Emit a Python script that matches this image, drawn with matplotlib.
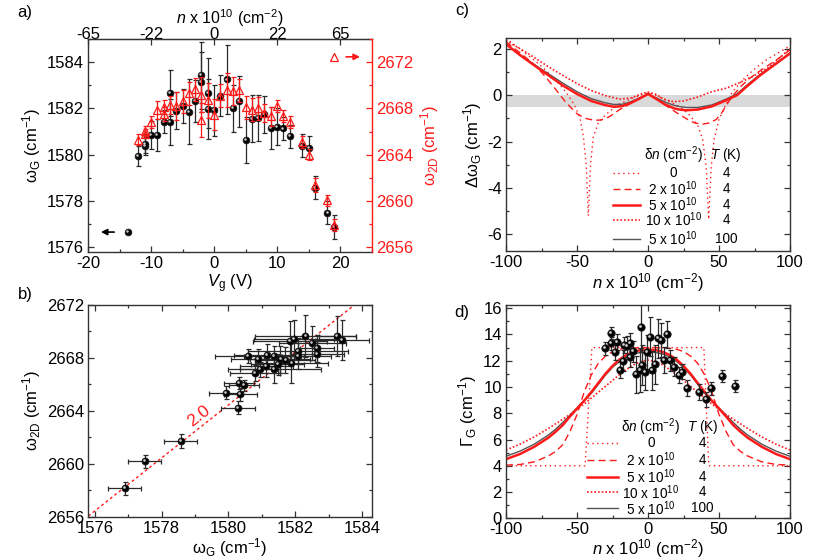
import numpy as np
import matplotlib
matplotlib.use("Agg")
import matplotlib.pyplot as plt
import matplotlib.transforms as mtrans
from matplotlib.ticker import MultipleLocator

plt.rcParams["font.family"] = ["Liberation Sans", "DejaVu Sans"]
plt.rcParams["mathtext.fontset"] = "custom"
plt.rcParams["mathtext.rm"] = "Liberation Sans"
plt.rcParams["mathtext.it"] = "Liberation Sans:italic"
plt.rcParams["font.size"] = 12
plt.rcParams["axes.unicode_minus"] = False

# ---- panel a: G and 2D positions vs gate voltage ----
vg_G = [-12, -11, -11, -10, -9, -8, -7, -7, -6, -5, -4, -3, -2, -2, -1, -1, 0, 1, 2,
        3, 4, 5, 6, 7, 8, 9, 10, 11, 12, 14, 15, 16, 18, 19]
wG = [1579.94, 1580.38, 1580.48, 1580.85, 1580.85, 1581.42, 1581.42, 1582.67, 1581.9,
      1582.1, 1581.85, 1582.32, 1583.44, 1583.15, 1582.67, 1581.98, 1581.92, 1582.55,
      1583.25, 1582.0, 1582.31, 1580.62, 1581.56, 1581.6, 1581.74, 1581.16, 1581.2,
      1581.13, 1580.8, 1580.38, 1580.3, 1578.57, 1577.49, 1576.87]
wG_err = [0.45, 0.4, 0.4, 0.6, 0.7, 0.5, 1.0, 1.0, 0.8, 0.75, 1.4, 0.9, 1.45, 1.3, 1.5,
          1.3, 1.1, 0.9, 1.5, 1.0, 1.1, 1.0, 1.0, 1.0, 0.8, 0.9, 0.8, 0.5, 0.5, 0.5,
          0.5, 0.5, 0.5, 0.5]

vg_2D = [-12, -11, -11, -10, -9, -8, -8, -7, -6, -5, -4, -3, -2, -2, -1, 0, 1, 2, 3,
         4, 5, 6, 7, 8, 9, 10, 11, 12, 14, 15, 16, 18, 19]
w2D = [2665.3, 2665.8, 2666.05, 2666.8, 2667.84, 2668.15, 2667.5, 2668.28, 2668.2,
       2668.6, 2669.3, 2669.66, 2669.2, 2667.0, 2668.7, 2667.47, 2669.1, 2669.58,
       2669.5, 2669.58, 2668.1, 2667.9, 2668.0, 2667.6, 2667.3, 2668.2, 2667.35,
       2666.8, 2665.1, 2664.0, 2661.4, 2660.05, 2657.9]
w2D_err = [0.5, 0.4, 0.4, 0.5, 0.8, 0.6, 0.6, 0.8, 1.2, 1.0, 1.0, 1.0, 1.5, 1.5, 1.5,
           1.3, 1.0, 1.5, 1.2, 1.0, 1.0, 1.0, 1.0, 0.8, 0.8, 0.5, 0.5, 0.5, 0.5, 0.5,
           0.6, 0.5, 0.5]

top_ticks_vg = [-20, -10, 0, 10, 20]
top_tick_labels = ["-65", "-22", "0", "22", "65"]

# ---- panel b: 2D vs G ----
b_wG = [1576.89, 1577.49, 1578.57, 1580.29, 1579.93, 1580.36, 1580.33, 1580.48, 1580.6,
        1580.81, 1580.88, 1580.94, 1581.16, 1581.14, 1581.38, 1581.38, 1581.48, 1581.56,
        1581.71, 1581.89, 1581.84, 1581.96, 1582.08, 1582.08, 1582.31, 1582.51, 1582.66,
        1582.66, 1583.26, 1583.41]
b_w2D = [2658.14, 2660.2, 2661.72, 2664.24, 2665.37, 2665.24, 2666.13, 2665.92, 2668.14,
         2666.88, 2667.91, 2667.13, 2668.22, 2667.39, 2667.13, 2668.14, 2667.51, 2667.89,
         2667.84, 2667.64, 2669.27, 2669.4, 2668.52, 2668.14, 2669.65, 2669.15, 2668.72,
         2668.29, 2669.65, 2669.35]
b_xerr = [0.5, 0.5, 0.5, 0.5, 0.5, 0.5, 0.45, 0.45, 1.0, 0.75, 0.8, 0.6, 1.0, 0.8, 1.4,
          0.9, 0.8, 0.9, 0.9, 1.1, 1.1, 1.2, 1.5, 1.0, 1.5, 1.0, 0.5, 0.8, 0.55, 0.8]
b_yerr = [0.5, 0.5, 0.5, 0.48, 0.48, 0.5, 0.45, 0.45, 0.5, 0.6, 0.8, 0.6, 0.8, 0.8, 1.0,
          0.8, 0.8, 1.0, 1.0, 1.5, 1.5, 1.5, 1.0, 1.0, 1.6, 1.3, 1.0, 1.0, 1.5, 1.5]
fit_slope = 2.0

# ---- panel c: calculated shift of G ----
c_n = [-100, -90, -80, -70, -60, -50, -40, -30, -24, -18, -12, -6, 0, 6, 12, 18, 22, 27,
       35, 45, 55, 62.7, 70, 79, 90, 100]
c_5 = [2.2, 1.72, 1.28, 0.85, 0.42, 0.05, -0.25, -0.43, -0.5, -0.47, -0.33, -0.15, 0.05,
       -0.17, -0.4, -0.56, -0.62, -0.65, -0.62, -0.48, -0.22, 0.0, 0.4, 0.86, 1.35, 1.8]
c_5hot = [2.2, 1.73, 1.31, 0.92, 0.52, 0.15, -0.15, -0.33, -0.4, -0.39, -0.28, -0.12, 0.05,
          -0.12, -0.3, -0.43, -0.49, -0.53, -0.53, -0.42, -0.17, 0.06, 0.45, 0.9, 1.37, 1.82]
c_n_2 = [-100, -90, -80, -72, -65, -58, -50, -44, -38, -33, -27, -20, -12, -5, 0, 5, 12,
         20, 28, 33, 38, 43, 48, 52, 56, 60, 65, 71, 80, 90, 100]
c_2 = [2.3, 1.82, 1.32, 0.78, 0.25, -0.3, -0.8, -1.0, -1.08, -1.07, -0.92, -0.62, -0.35,
       -0.1, 0.08, -0.12, -0.42, -0.75, -1.05, -1.2, -1.25, -1.2, -1.05, -0.75, -0.35,
       0.0, 0.35, 0.7, 1.1, 1.5, 1.95]
c_n_0 = [-100, -90, -80, -72, -65, -58, -52, -48, -45.5, -43.5, -42, -40.5, -38.5, -35,
         -30, -25, -20, -12, -5, 0, 5, 12, 20, 25, 30, 35, 38.5, 41, 42.7, 44.5, 46.5,
         50, 54, 59, 66, 74, 84, 100]
c_0 = [2.45, 1.98, 1.5, 1.08, 0.65, 0.15, -0.4, -0.95, -1.8, -3.0, -5.2, -3.0, -1.8,
       -1.2, -0.85, -0.6, -0.38, -0.15, 0.0, 0.1, 0.0, -0.18, -0.42, -0.62, -0.9, -1.3,
       -1.9, -3.1, -5.35, -3.1, -1.9, -1.05, -0.5, 0.1, 0.62, 1.08, 1.55, 2.12]
c_n_10 = [-100, -90, -80, -70, -60, -50, -40, -30, -20, -12, -5, 0, 5, 12, 18, 25, 35,
          45, 55, 65, 75, 85, 100]
c_10 = [2.35, 2.0, 1.62, 1.22, 0.85, 0.5, 0.2, -0.02, -0.17, -0.12, 0.05, 0.13, 0.05,
        -0.2, -0.28, -0.25, -0.08, 0.15, 0.3, 0.55, 0.85, 1.2, 2.0]

# ---- panel d: G linewidth ----
d_n_pts = [-30.1, -25.8, -25.8, -23.0, -21.8, -19.5, -17.9, -17.2, -14.8, -12.5, -13.0,
           -10.6, -8.5, -5.9, -4.7, -4.2, -2.4, -0.5, 1.1, 2.8, 5.1, 7.2, 9.0, 11.0,
           13.5, 15.7, 18.0, 21.5, 23.9, 27.5, 36.2, 41.0, 44.5, 52.1, 61.2]
d_gam = [12.95, 14.09, 13.33, 12.69, 13.4, 11.3, 12.0, 13.2, 13.1, 13.33, 12.31, 12.74,
         10.97, 11.3, 14.57, 11.68, 11.17, 12.69, 13.83, 11.27, 11.72, 13.71, 13.55,
         12.06, 14.0, 12.03, 11.55, 10.91, 11.17, 9.9, 9.64, 9.06, 9.9, 10.82, 10.09]
d_gam_err = [0.5, 0.45, 0.5, 0.6, 0.6, 0.6, 0.8, 0.6, 0.8, 0.8, 0.8, 0.8, 1.4, 1.7, 1.9,
             1.5, 1.4, 1.3, 1.5, 1.5, 1.5, 1.5, 1.3, 1.0, 1.0, 0.8, 0.7, 0.6, 0.6, 0.6,
             0.6, 0.55, 0.5, 0.45, 0.45]

d_n_0 = [-100, -44.3, -39.5, 39.3, 42.8, 100]
d_0 = [4.0, 4.0, 13.0, 13.0, 4.0, 4.0]
d_n = [-100, -90, -80, -70, -65, -60, -55, -50, -45, -40, -35, -30, -25, -20, -15, -10,
       -5, 0, 5, 10, 15, 20, 25, 30, 35, 40, 45, 50, 55, 60, 65, 70, 80, 90, 100]
d_2 = [4.05, 4.1, 4.3, 4.75, 5.1, 5.6, 6.6, 7.9, 9.6, 10.9, 11.8, 12.35, 12.7, 12.88,
       12.95, 12.97, 13.0, 13.0, 13.0, 12.97, 12.95, 12.88, 12.7, 12.35, 11.8, 10.9,
       9.6, 7.9, 6.6, 5.6, 5.1, 4.75, 4.3, 4.1, 4.05]
d_5 = [4.5, 4.9, 5.45, 6.15, 6.6, 7.1, 7.75, 8.35, 8.95, 9.6, 10.3, 11.0, 11.6, 12.1,
       12.45, 12.68, 12.82, 12.85, 12.82, 12.68, 12.45, 12.1, 11.6, 11.0, 10.3, 9.6,
       8.95, 8.35, 7.75, 7.1, 6.6, 6.15, 5.45, 4.9, 4.5]
d_5hot = [4.72, 5.12, 5.65, 6.35, 6.8, 7.3, 7.85, 8.4, 8.95, 9.5, 10.2, 10.9, 11.5,
          11.95, 12.3, 12.52, 12.63, 12.65, 12.63, 12.52, 12.3, 11.95, 11.5, 10.9, 10.2,
          9.5, 8.95, 8.4, 7.85, 7.3, 6.8, 6.35, 5.65, 5.12, 4.72]
d_10 = [5.2, 5.65, 6.2, 6.85, 7.2, 7.55, 7.9, 8.3, 8.7, 9.15, 9.6, 10.05, 10.5, 10.95,
        11.35, 11.7, 11.95, 12.05, 11.95, 11.7, 11.35, 10.95, 10.5, 10.05, 9.6, 9.15,
        8.7, 8.3, 7.9, 7.55, 7.2, 6.85, 6.2, 5.65, 5.2]

leg_dn = ["0", r"2 x 10$^{10}$", r"5 x 10$^{10}$", r"10 x 10$^{10}$", r"5 x 10$^{10}$"]
leg_T = ["4", "4", "4", "4", "100"]

RED = "#ff1a1a"
sty_0 = dict(color=RED, lw=1.0, ls=(0, (1, 2.5)))
sty_2 = dict(color=RED, lw=1.0, ls=(0, (5, 3)))
sty_5 = dict(color=RED, lw=1.8, ls="-")
sty_10 = dict(color=RED, lw=1.2, ls=(0, (1, 1.2)))
sty_hot = dict(color="#555555", lw=1.0, ls="-")
leg_styles = [sty_0, sty_2, sty_5, sty_10, sty_hot]
LEG_FS = 9.8

fig = plt.figure(figsize=(8.31, 5.6), dpi=100)
ax_a = fig.add_axes([0.1059, 0.5505, 0.3412, 0.3798])
ax_b = fig.add_axes([0.1063, 0.0773, 0.3412, 0.378])
ax_c = fig.add_axes([0.6089, 0.5523, 0.3418, 0.3793])
ax_d = fig.add_axes([0.6089, 0.0745, 0.3418, 0.381])


def balls(ax, x, y, ms, z=4):
    ax.plot(x, y, "o", ms=ms, color="black", mec="#1a1a1a", mew=0.6, zorder=z)
    hl = mtrans.offset_copy(ax.transData, fig=fig, x=-ms * 0.14, y=ms * 0.14, units="points")
    ax.plot(x, y, "o", ms=ms * 0.38, color="#c8c8c8", mew=0, transform=hl, zorder=z + 0.1)


def style(ax, xmaj, xmin, ymaj, ymin, top=True, right=True):
    for s in ax.spines.values():
        s.set_linewidth(1.0)
        s.set_color("#333333")
    ax.xaxis.set_major_locator(MultipleLocator(xmaj))
    ax.xaxis.set_minor_locator(MultipleLocator(xmin))
    ax.yaxis.set_major_locator(MultipleLocator(ymaj))
    ax.yaxis.set_minor_locator(MultipleLocator(ymin))
    ax.tick_params(which="both", direction="in", top=top, right=right, width=0.9,
                   color="#333333", pad=3)
    ax.tick_params(which="major", length=4.5)
    ax.tick_params(which="minor", length=2.5)


def legend_block(ax, x0, x1, xd, xt, yh, ys):
    ax.text(xd, yh, r"δ$n$ (cm$^{-2}$)", transform=ax.transAxes, ha="center",
            va="center", fontsize=LEG_FS)
    ax.text(xt, yh, r"$T$ (K)", transform=ax.transAxes, ha="center", va="center",
            fontsize=LEG_FS)
    for y, st, dl, tl in zip(ys, leg_styles, leg_dn, leg_T):
        ax.plot([x0, x1], [y, y], transform=ax.transAxes, **st)
        ax.text(xd, y, dl, transform=ax.transAxes, ha="center", va="center",
                fontsize=LEG_FS)
        ax.text(xt, y, tl, transform=ax.transAxes, ha="center", va="center",
                fontsize=LEG_FS)


# ---- a ----
ax_r = ax_a.twinx()
ax_a.errorbar(vg_G, wG, yerr=wG_err, fmt="none", ecolor="#2a2a2a", elinewidth=0.9,
              capsize=1.8, capthick=0.9, zorder=3)
balls(ax_a, vg_G, wG, 4.8)
ax_r.errorbar(vg_2D, w2D, yerr=w2D_err, fmt="^", ms=5.2, mfc="none", mec=RED, mew=0.9,
              ecolor=RED, elinewidth=0.9, capsize=1.8, capthick=0.9, zorder=3)
ax_a.set_xlim(-20, 25)
ax_a.set_ylim(1575.8, 1585.0)
ax_r.set_ylim(2655.6, 2674.0)
style(ax_a, 10, 5, 2, 1, top=False, right=False)
ax_a.spines["right"].set_visible(False)
ax_r.spines["right"].set_color(RED)
ax_r.spines["right"].set_linewidth(1.0)
ax_r.spines["top"].set_visible(False)
ax_r.spines["left"].set_visible(False)
ax_r.spines["bottom"].set_visible(False)
ax_r.yaxis.set_major_locator(MultipleLocator(4))
ax_r.yaxis.set_minor_locator(MultipleLocator(2))
ax_r.tick_params(which="both", direction="in", colors=RED, width=0.9, pad=3)
ax_r.tick_params(which="major", length=4.5)
ax_r.tick_params(which="minor", length=2.5)
ax_a.set_xlabel(r"$V_{\rm g}$ (V)", labelpad=1)
ax_a.set_ylabel(r"ω$_{\rm G}$ (cm$^{-1}$)", labelpad=3)
ax_r.set_ylabel(r"ω$_{\rm 2D}$ (cm$^{-1}$)", color=RED, labelpad=4)
sec = ax_a.secondary_xaxis("top")
sec.set_xticks(top_ticks_vg, labels=top_tick_labels)
sec.tick_params(direction="in", length=4.5, width=0.9, color="#333333", pad=-2.0)
sec.set_xlabel(r"$n$ x 10$^{10}$ (cm$^{-2}$)", labelpad=2, fontsize=11.5)
# axis markers
balls(ax_a, [-13.6], [1576.65], 4.8)
ax_a.annotate("", xy=(-18.4, 1576.65), xytext=(-15.4, 1576.65),
              arrowprops=dict(arrowstyle="-|>", color="black", lw=1.2, mutation_scale=9))
ax_r.plot([19.1], [2672.46], "^", ms=5.2, mfc="none", mec=RED, mew=0.9)
ax_r.annotate("", xy=(23.6, 2672.46), xytext=(20.5, 2672.46),
              arrowprops=dict(arrowstyle="-|>", color=RED, lw=1.2, mutation_scale=9))

# ---- b ----
ax_b.errorbar(b_wG, b_w2D, xerr=b_xerr, yerr=b_yerr, fmt="none", ecolor="#2a2a2a",
              elinewidth=0.9, capsize=1.8, capthick=0.9, zorder=3)
balls(ax_b, b_wG, b_w2D, 5.0)
fit_x = np.array([1575.8, 1584.3])
ax_b.plot(fit_x, 2656.05 + fit_slope * (fit_x - 1575.8), color=RED, lw=1.0,
          ls=(0, (2, 2)), zorder=2)
ax_b.text(1579.1, 2663.6, "2.0", color=RED, rotation=38, ha="center", va="center",
          fontsize=12.5)
ax_b.set_xlim(1575.8, 1584.3)
ax_b.set_ylim(2656, 2672)
style(ax_b, 2, 1, 4, 2)
ax_b.set_xlabel(r"ω$_{\rm G}$ (cm$^{-1}$)", labelpad=0)
ax_b.set_ylabel(r"ω$_{\rm 2D}$ (cm$^{-1}$)", labelpad=3)

# ---- c ----
ax_c.axhspan(-0.5, 0, color="#d9d9d9", lw=0, zorder=0)
ax_c.plot(c_n_0, c_0, **sty_0)
ax_c.plot(c_n_2, c_2, **sty_2)
ax_c.plot(c_n_10, c_10, **sty_10)
ax_c.plot(c_n, c_5hot, **sty_hot)
ax_c.plot(c_n, c_5, **sty_5)
ax_c.set_xlim(-100, 100)
ax_c.set_ylim(-6.7, 2.45)
style(ax_c, 50, 25, 2, 1)
ax_c.set_xlabel(r"$n$ x 10$^{10}$ (cm$^{-2}$)", labelpad=1)
ax_c.set_ylabel(r"Δω$_{\rm G}$ (cm$^{-1}$)", labelpad=2)
legend_block(ax_c, 0.376, 0.472, 0.588, 0.775, 0.45, [0.366, 0.29, 0.215, 0.145, 0.055])

# ---- d ----
ax_d.plot(d_n_0, d_0, **sty_0)
ax_d.plot(d_n, d_2, **sty_2)
ax_d.plot(d_n, d_10, **sty_10)
ax_d.plot(d_n, d_5hot, **sty_hot)
ax_d.plot(d_n, d_5, **sty_5)
ax_d.errorbar(d_n_pts, d_gam, yerr=d_gam_err, fmt="none", ecolor="#2a2a2a",
              elinewidth=0.9, capsize=1.8, capthick=0.9, zorder=3)
balls(ax_d, d_n_pts, d_gam, 5.3)
ax_d.set_xlim(-100, 100)
ax_d.set_ylim(0, 16.25)
style(ax_d, 50, 25, 2, 1)
ax_d.set_xlabel(r"$n$ x 10$^{10}$ (cm$^{-2}$)", labelpad=0)
ax_d.set_ylabel(r"Γ$_{\rm G}$ (cm$^{-1}$)", labelpad=3)
legend_block(ax_d, 0.284, 0.395, 0.51, 0.692, 0.429, [0.352, 0.273, 0.195, 0.122, 0.047])

for lab, px, py in [("a)", 25, 12), ("b)", 25, 295), ("c)", 462, 10), ("d)", 462, 312)]:
    fig.text(px / 831, 1 - py / 560, lab, ha="center", va="center", fontsize=12)

fig.savefig("out.png", dpi=100)
